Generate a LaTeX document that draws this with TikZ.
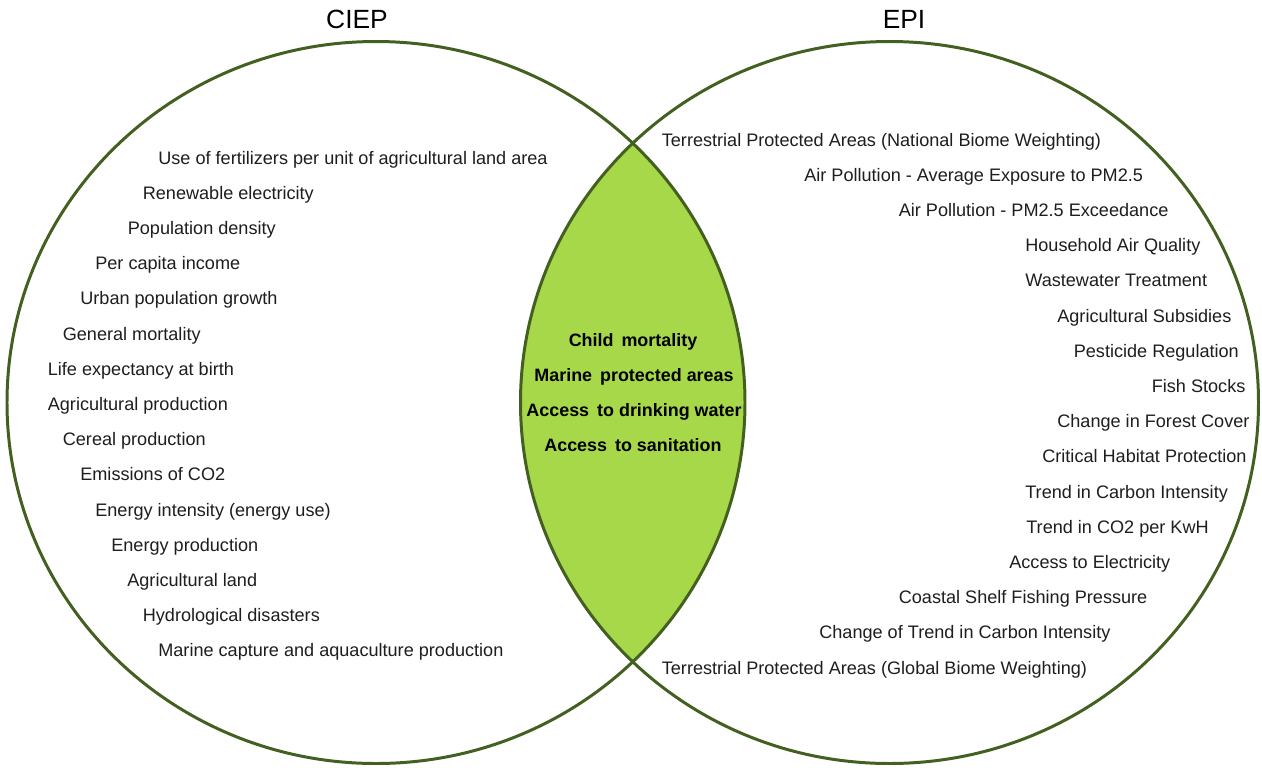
\documentclass[tikz,border=0pt]{standalone}
\usepackage{fontspec}
\setmainfont{Liberation Sans}

\definecolor{ringgreen}{RGB}{68,96,32}
\definecolor{lensgreen}{RGB}{166,216,74}
\definecolor{itemgray}{RGB}{30,30,30}

\begin{document}
\begin{tikzpicture}[x=0.02cm, y=-0.02cm,
    ring/.style={draw=ringgreen, line width=1.7pt},
    setname/.style={anchor=base, inner sep=0pt, font=\fontsize{15}{18}\selectfont},
    item/.style={anchor=base west, inner sep=0pt, text=itemgray, font=\fontsize{10.3}{12}\selectfont},
    shared/.style={anchor=base, inner sep=0pt, font=\fontsize{10.2}{12}\selectfont\bfseries}]
        \useasboundingbox (0,0) rectangle (1262,768);
        \fill[white] (0,0) rectangle (1262,768);

        \coordinate (ciep) at (376,402.5);
        \coordinate (epi) at (889.5,402.5);

        % overlap of the two sets
        \begin{scope}
            \clip (ciep) ellipse [x radius=369, y radius=361];
            \fill[lensgreen] (epi) ellipse [x radius=369, y radius=361];
        \end{scope}
        \draw[ring] (ciep) ellipse [x radius=369, y radius=361];
        \draw[ring] (epi) ellipse [x radius=369, y radius=361];

        \node[setname] (tciep) at (357,28) {CIEP};
        \node[setname] (tepi) at (904,28) {EPI};

        % CIEP only
        \node[item] (fert) at (158,164) {Use of fertilizers per unit of agricultural land area};
        \node[item] (renew) at (142.5,199.2) {Renewable electricity};
        \node[item] (popden) at (127.5,234.4) {Population density};
        \node[item] (income) at (95,269.6) {Per capita income};
        \node[item] (urban) at (80,304.8) {Urban population growth};
        \node[item] (genmort) at (62.5,340) {General mortality};
        \node[item] (lifeexp) at (47.5,375.2) {Life expectancy at birth};
        \node[item] (agprod) at (47.5,410.4) {Agricultural production};
        \node[item] (cereal) at (62.5,445.6) {Cereal production};
        \node[item] (co2) at (80,480.8) {Emissions of CO2};
        \node[item] (energyint) at (95,516) {Energy intensity (energy use)};
        \node[item] (energyprod) at (111,551.2) {Energy production};
        \node[item] (agland) at (127,586.4) {Agricultural land};
        \node[item] (hydro) at (142.5,621.6) {Hydrological disasters};
        \node[item] (marcap) at (158,656.8) {Marine capture and aquaculture production};

        % shared by both
        \node[shared] (childmort) at (633,346) {Child\, mortality};
        \node[shared] (marprot) at (634,381.2) {Marine\, protected areas};
        \node[shared] (water) at (634,416.4) {Access\, to drinking water};
        \node[shared] (sanit) at (633,451.6) {Access\, to sanitation};

        % EPI only
        \node[item] (tpanat) at (661.5,146) {Terrestrial Protected Areas (National Biome Weighting)};
        \node[item] (pmexp) at (804,181.2) {Air Pollution - Average Exposure to PM2.5};
        \node[item] (pmexc) at (898.5,216.4) {Air Pollution - PM2.5 Exceedance};
        \node[item] (houseair) at (1025,251.6) {Household Air Quality};
        \node[item] (waste) at (1025,286.8) {Wastewater Treatment};
        \node[item] (subsid) at (1057,322) {Agricultural Subsidies};
        \node[item] (pestic) at (1073.5,357.2) {Pesticide Regulation};
        \node[item] (fish) at (1151.5,392.4) {Fish Stocks};
        \node[item] (forest) at (1057,427.6) {Change in Forest Cover};
        \node[item] (habitat) at (1042,462.8) {Critical Habitat Protection};
        \node[item] (carbint) at (1025,498) {Trend in Carbon Intensity};
        \node[item] (co2kwh) at (1026,533.2) {Trend in CO2 per KwH};
        \node[item] (elec) at (1009,568.4) {Access to Electricity};
        \node[item] (shelf) at (898.5,603.6) {Coastal Shelf Fishing Pressure};
        \node[item] (chtrend) at (819,638.8) {Change of Trend in Carbon Intensity};
        \node[item] (tpaglob) at (661.5,674) {Terrestrial Protected Areas (Global Biome Weighting)};
\end{tikzpicture}
\end{document}
